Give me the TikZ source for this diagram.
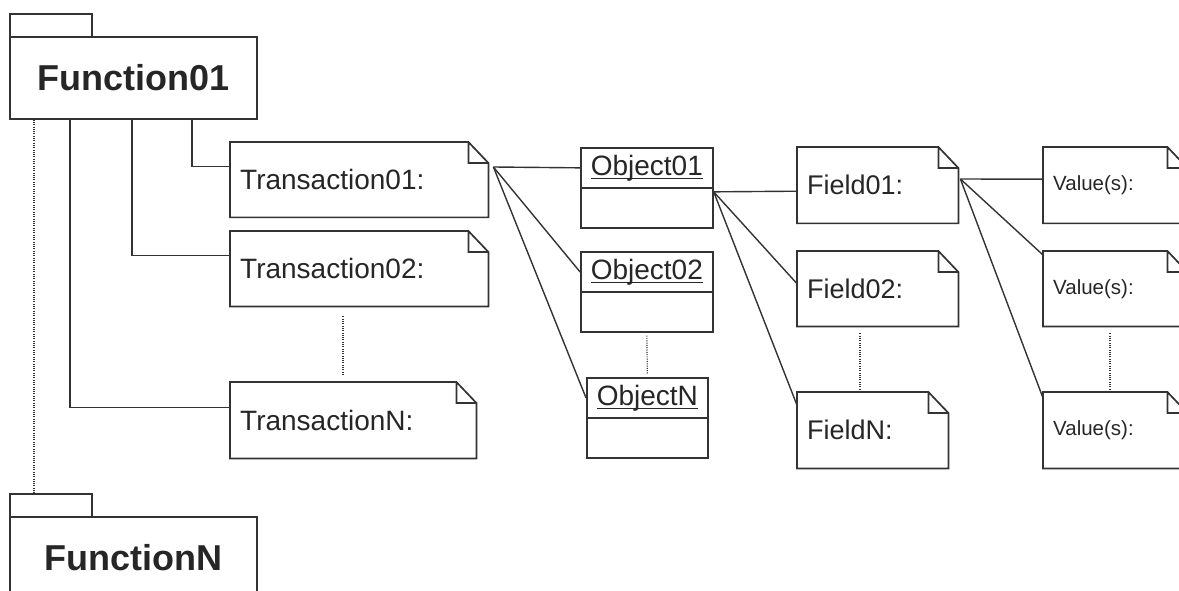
\documentclass[tikz,border=0pt]{standalone}
\usepackage{fontspec}
\setmainfont{Liberation Sans}
\usetikzlibrary{calc}
\definecolor{linegray}{HTML}{333333}
\definecolor{inkgray}{HTML}{262626}
\newcommand{\ulname}[1]{\setbox0\hbox{#1}\rlap{\rule[-3.5pt]{\wd0}{1.3pt}}\box0}
\tikzset{
  pkgtab/.style={draw=linegray, line width=1.7pt, anchor=north west, minimum width=82pt, minimum height=23pt, inner sep=0pt},
  pkgbox/.style={draw=linegray, line width=1.7pt, anchor=north west, minimum width=247pt, minimum height=82pt, inner sep=0pt, text=inkgray, font=\bfseries\fontsize{36}{40}\selectfont},
  notebox/.style={anchor=north west, text width=#1, inner xsep=10pt, inner ysep=0pt, minimum height=75pt, align=left, text=inkgray, font=\fontsize{28}{32}\selectfont},
  objbox/.style={draw=linegray, line width=1.7pt, anchor=north west, minimum width=#1, text height=24pt, text depth=48pt, inner ysep=4pt, inner xsep=0pt, text=inkgray, font=\fontsize{28}{32}\selectfont},
  noteline/.style={draw=linegray, line width=1.7pt},
  link/.style={draw=linegray, line width=1.4pt},
  dotlink/.style={draw=linegray, line width=1.2pt, dash pattern=on 1pt off 1.3pt},
}

\begin{document}
\begin{tikzpicture}[x=1pt, y=-1pt]
  \useasboundingbox (0,0) rectangle (1179,591);
  \clip (0,0) rectangle (1179,591);

  % packages
  \node[pkgtab] (fn1tab) at (9,13) {};
  \node[pkgbox] (fn1) at (9,36) {Function01};
  \node[pkgtab] (fnNtab) at (9,493) {};
  \node[pkgbox] (fnN) at (9,516) {FunctionN};

  % transactions
  \node[notebox=238pt] (t1) at (230,142) {Transaction01:};
  \node[notebox=238pt] (t2) at (230,231) {Transaction02:};
  \node[notebox=226pt, minimum height=76pt] (tN) at (230,382) {TransactionN:};

  % objects
  \node[objbox=132pt] (o1) at (580,147) {\ulname{Object01}};
  \node[objbox=132pt] (o2) at (580,251) {\ulname{Object02}};
  \node[objbox=121pt] (oN) at (586,377) {\ulname{ObjectN}};

  % fields
  \node[notebox=141pt, minimum height=76pt, font=\fontsize{27}{30}\selectfont] (f1) at (797,147) {Field01:};
  \node[notebox=141pt, font=\fontsize{27}{30}\selectfont] (f2) at (797,251) {Field02:};
  \node[notebox=131pt, minimum height=76pt, font=\fontsize{27}{30}\selectfont] (fN) at (797,392) {FieldN:};

  % values
  \node[notebox=124pt, minimum height=76pt, font=\fontsize{20.5}{24}\selectfont] (v1) at (1043,147) {Value(s):};
  \node[notebox=124pt, font=\fontsize{20.5}{24}\selectfont] (v2) at (1043,251) {Value(s):};
  \node[notebox=124pt, minimum height=76pt, font=\fontsize{20.5}{24}\selectfont] (vN) at (1043,392) {Value(s):};

  % note outlines with folded corner
  \foreach \n in {t1,t2,tN,f1,f2,fN,v1,v2,vN}
    \draw[noteline] (\n.north west) -- ([xshift=-20pt]\n.north east) -- ([yshift=-21pt]\n.north east)
      -- (\n.south east) -- (\n.south west) -- cycle
      ([xshift=-20pt]\n.north east) |- ([yshift=-21pt]\n.north east);
  \foreach \o in {o1,o2,oN}
    \draw[noteline] (\o.west) -- (\o.east);

  % function to transactions
  \draw[link] ([xshift=183pt]fn1.south west) |- ([yshift=13pt]t1.west);
  \draw[link] ([xshift=123pt]fn1.south west) |- ([yshift=13pt]t2.west);
  \draw[link] ([xshift=61pt]fn1.south west) |- ([yshift=13pt]tN.west);

  % transaction to objects
  \coordinate (t1hub) at ([xshift=5pt,yshift=-25pt]t1.north east);
  \draw[link] (t1hub) -- ([yshift=20pt]o1.west);
  \draw[link] (t1hub) -- ([yshift=20pt]o2.west);
  \draw[link] (t1hub) -- ([yshift=20pt]oN.west);

  % object to fields
  \coordinate (o1hub) at ([yshift=-4pt]o1.east);
  \draw[link] (o1hub) -- ([yshift=-6pt]f1.west);
  \draw[link] (o1hub) -- ([yshift=5pt]f2.west);
  \draw[link] (o1hub) -- ([yshift=25pt]fN.west);

  % field to values
  \coordinate (f1hub) at ([xshift=2pt,yshift=-32pt]f1.north east);
  \draw[link] (f1hub) -- ([yshift=6pt]v1.west);
  \draw[link] (f1hub) -- ([yshift=-4pt]v2.north west);
  \draw[link] (f1hub) -- ([yshift=-6pt]vN.north west);

  % continuation dots
  \draw[dotlink] ([xshift=25pt]fn1.south west) -- ([xshift=25pt]fnNtab.north west);
  \draw[dotlink] ([xshift=113pt,yshift=-10pt]t2.south west) -- ([xshift=113pt,yshift=6pt]tN.north west);
  \draw[dotlink] ([yshift=-3pt]o2.south) -- ([yshift=3pt]oN.north);
  \draw[dotlink] ([xshift=63pt,yshift=-7pt]f2.south west) -- ([xshift=63pt,yshift=2pt]fN.north west);
  \draw[dotlink] ([xshift=67pt,yshift=-7pt]v2.south west) -- ([xshift=67pt,yshift=2pt]vN.north west);
\end{tikzpicture}
\end{document}
